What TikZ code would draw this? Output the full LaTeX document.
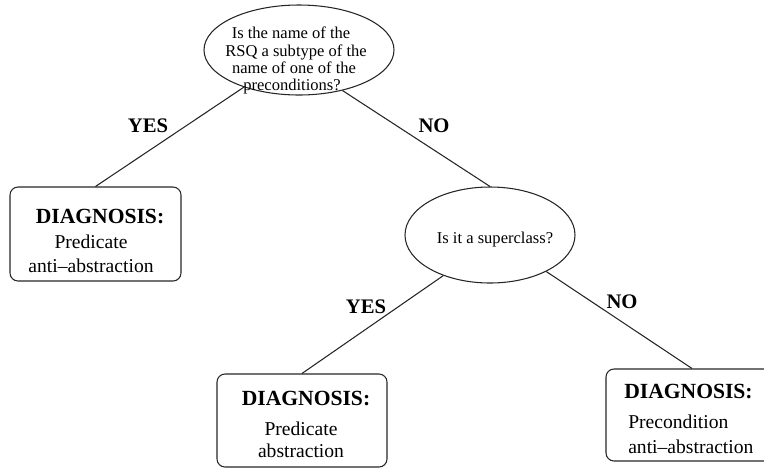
\documentclass[tikz,border=0pt]{standalone}
\usepackage{fontspec}
\setmainfont{Liberation Serif}
\usetikzlibrary{shapes.geometric}
\begin{document}
\begin{tikzpicture}[x=0.75pt,y=-0.75pt,
  edge/.style={draw=black!85, line width=0.8pt},
  question/.style={ellipse, draw=black!85, line width=0.8pt, inner sep=0pt},
  verdict/.style={rectangle, rounded corners=6pt, draw=black!85, line width=0.8pt, inner sep=0pt},
  qtext/.style={inner sep=0pt, anchor=base, font=\fontsize{12.4}{13}\selectfont},
  headtext/.style={inner sep=0pt, anchor=base, font=\fontsize{16.2}{18}\selectfont\bfseries},
  bodytext/.style={inner sep=0pt, anchor=base, font=\fontsize{14.7}{18}\selectfont},
  answer/.style={inner sep=0pt, font=\fontsize{15.5}{18}\selectfont\bfseries}]
% page frame; the last box runs off its right side
\clip (0,0) rectangle (764,469);

% decision ellipses
\node[question, minimum width=142.5pt, minimum height=67.5pt] (q1) at (299,50) {};
\node[question, minimum width=127.5pt, minimum height=72pt] (q2) at (490,235) {};

% outcome boxes
\node[verdict, minimum width=128.25pt, minimum height=70.5pt] (b1) at (95.5,234) {};
\node[verdict, minimum width=127.5pt, minimum height=69.75pt] (b2) at (302,420.5) {};
\node[verdict, minimum width=129pt, minimum height=69pt] (b3) at (692,415) {};

% connectors
\draw[edge] (q1.214) -- (b1.north);
\draw[edge] (q1.317) -- (q2.north);
\draw[edge] (q2.221.8) -- (b2.north);
\draw[edge] (q2.327) -- (b3.north);

% question texts
\node[qtext] (q1l1) at (291,38) {Is the name of the};
\node[qtext] (q1l2) at (296,56) {RSQ a subtype of the};
\node[qtext] (q1l3) at (294,73) {name of one of the};
\node[qtext] (q1l4) at (292,90) {preconditions?};
\node[qtext] (q2l1) at (495,243) {Is it a superclass?};

% branch labels
\node[answer] (yes1) at (148,126) {YES};
\node[answer] (no1) at (434,126) {NO};
\node[answer] (yes2) at (366,307) {YES};
\node[answer] (no2) at (622,302) {NO};

% outcome texts
\node[headtext] (b1h) at (100,223) {DIAGNOSIS:};
\node[bodytext] (b1a) at (91,248) {Predicate};
\node[bodytext] (b1b) at (91,272) {anti--abstraction};

\node[headtext] (b2h) at (306,405) {DIAGNOSIS:};
\node[bodytext] (b2a) at (301,435) {Predicate};
\node[bodytext] (b2b) at (301,457) {abstraction};

\node[headtext, anchor=base west] (b3h) at (624,398) {DIAGNOSIS:};
\node[bodytext, anchor=base west] (b3a) at (628,428) {Precondition};
\node[bodytext, anchor=base west] (b3b) at (628,453) {anti--abstraction};
\end{tikzpicture}
\end{document}
